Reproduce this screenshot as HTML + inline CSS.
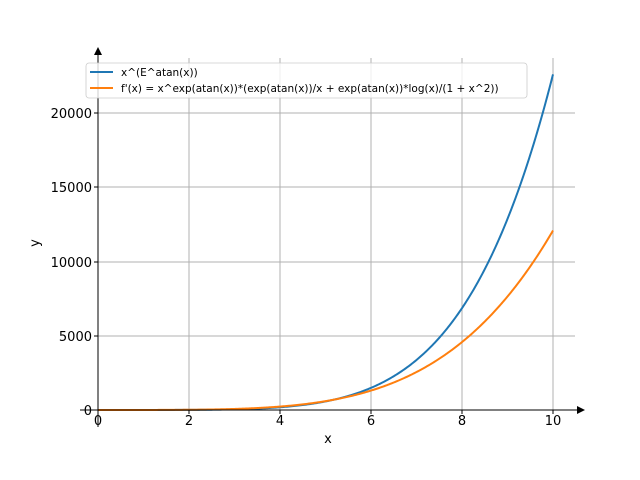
<!DOCTYPE html>
<html><head><meta charset="utf-8"><style>
html,body{margin:0;padding:0;background:#fff;}
svg{display:block;font-family:"DejaVu Sans","Liberation Sans",sans-serif;}
</style></head><body>
<svg id="s" width="640" height="480" viewBox="0 0 640 480" xmlns="http://www.w3.org/2000/svg">
<rect width="640" height="480" fill="#fff"/>
<g stroke="#b0b0b0" stroke-width="1">
<line x1="189" y1="58" x2="189" y2="410"/>
<line x1="280" y1="58" x2="280" y2="410"/>
<line x1="371" y1="58" x2="371" y2="410"/>
<line x1="462" y1="58" x2="462" y2="410"/>
<line x1="553" y1="58" x2="553" y2="410"/>
<line x1="98" y1="336" x2="575" y2="336"/>
<line x1="98" y1="262" x2="575" y2="262"/>
<line x1="98" y1="187" x2="575" y2="187"/>
<line x1="98" y1="113" x2="575" y2="113"/>
</g>
<path id="p1" fill="none" stroke="#1f77b4" stroke-width="2"/>
<path id="p2" fill="none" stroke="#ff7f0e" stroke-width="2"/>
<g stroke="#000" stroke-width="1">
<line x1="80" y1="410" x2="580" y2="410"/>
<line x1="98" y1="427" x2="98" y2="53"/>
<line x1="98" y1="410" x2="98" y2="414"/>
<line x1="189" y1="410" x2="189" y2="414"/>
<line x1="280" y1="410" x2="280" y2="414"/>
<line x1="371" y1="410" x2="371" y2="414"/>
<line x1="462" y1="410" x2="462" y2="414"/>
<line x1="553" y1="410" x2="553" y2="414"/>
<line x1="94" y1="410" x2="98" y2="410"/>
<line x1="94" y1="336" x2="98" y2="336"/>
<line x1="94" y1="262" x2="98" y2="262"/>
<line x1="94" y1="187" x2="98" y2="187"/>
<line x1="94" y1="113" x2="98" y2="113"/>
</g>
<polygon points="585,410 577,406 577,414" fill="#000"/>
<polygon points="98,47 94,55 102,55" fill="#000"/>
<g font-size="13" fill="#000" text-anchor="middle">
<text x="98" y="425">0</text>
<text x="189" y="425">2</text>
<text x="280" y="425">4</text>
<text x="371" y="425">6</text>
<text x="462" y="425">8</text>
<text x="553" y="425">10</text>
<text x="328" y="443">x</text>
</g>
<g font-size="13" fill="#000" text-anchor="end">
<text x="92" y="415">0</text>
<text x="92" y="341">5000</text>
<text x="92" y="267">10000</text>
<text x="92" y="192">15000</text>
<text x="92" y="118">20000</text>
</g>
<text x="39" y="243" font-size="13" text-anchor="middle" transform="rotate(-90 39 243)">y</text>
<rect x="86" y="63" width="441" height="35" rx="3" fill="#fff" fill-opacity="0.8" stroke="#ccc" stroke-width="0.8"/>
<line x1="90" y1="72" x2="113" y2="72" stroke="#1f77b4" stroke-width="2"/>
<line x1="90" y1="88" x2="113" y2="88" stroke="#ff7f0e" stroke-width="2"/>
<g font-size="10.5" fill="#000">
<text x="121" y="76">x^(E^atan(x))</text>
<text x="121" y="92">f'(x) = x^exp(atan(x))*(exp(atan(x))/x + exp(atan(x))*log(x)/(1 + x^2))</text>
</g>
</svg>
<script>
var a="",b="";
for(var i=0;i<=400;i++){var x=0.0001+i*10/400;var e=Math.exp(Math.atan(x));var f=Math.pow(x,e);
var d=f*(e/x+e*Math.log(x)/(1+x*x));
var px=98+x*45.5;var y1=410-f*0.01485,y2=410-d*0.01485;
a+=(i?"L":"M")+px.toFixed(2)+","+y1.toFixed(2);b+=(i?"L":"M")+px.toFixed(2)+","+y2.toFixed(2);}
document.getElementById("p1").setAttribute("d",a);document.getElementById("p2").setAttribute("d",b);
</script>
</body></html>
